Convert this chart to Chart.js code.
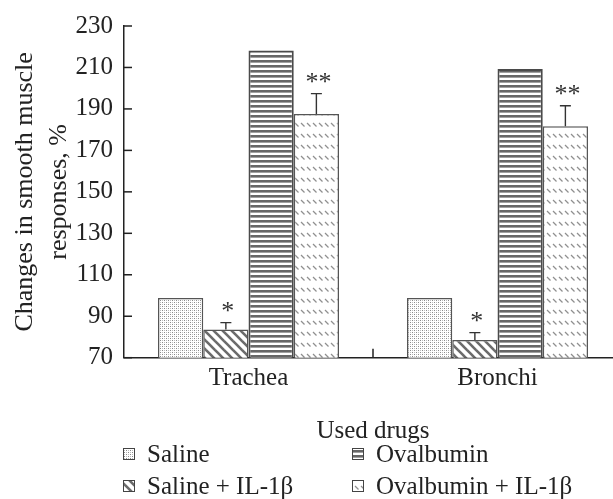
<!DOCTYPE html>
<html>
<head>
<meta charset="utf-8">
<script src="https://cdn.jsdelivr.net/npm/chart.js@4.4.1/dist/chart.umd.min.js"></script>
<style>
  html, body { margin: 0; padding: 0; background: #fff; overflow: hidden; }
  #wrap { width: 622px; height: 499px; }
</style>
</head>
<body>
<div id="wrap"><canvas id="chart"></canvas></div>
<script>
'use strict';

// Data

const categories = ['Trachea', 'Bronchi'];
const seriesNames = ['Saline', 'Saline + IL-1β', 'Ovalbumin', 'Ovalbumin + IL-1β'];
const salineValues = [98.8, 98.8];
const salineIlValues = [83.6, 78.5];
const ovalbuminValues = [218.2, 209.3];
const ovalbuminIlValues = [187.5, 181.7];
const salineIlErrors = [3.3, 3.6];
const ovalbuminIlErrors = [9.9, 9.8];
const salineIlMarks = ['*', '*'];
const ovalbuminIlMarks = ['**', '**'];
const yTicks = [70, 90, 110, 130, 150, 170, 190, 210, 230];

const serif = '"Liberation Serif", "DejaVu Serif", serif';
const ink = '#222';

// Hatch patterns for the bars

function makePattern(kind) {
    let c = document.createElement('canvas');
    let g = c.getContext('2d');
    if (kind === 'dots') {
        c.width = 4; c.height = 4;
        g.fillStyle = '#fff'; g.fillRect(0, 0, 4, 4);
        g.fillStyle = '#8a8a8a';
        g.fillRect(0, 0, 1, 1); g.fillRect(2, 2, 1, 1);
        g.fillStyle = '#bdbdbd';
        g.fillRect(2, 0, 1, 1); g.fillRect(0, 2, 1, 1);
    } else if (kind === 'diag') {
        c.width = 9; c.height = 9;
        g.fillStyle = '#fff'; g.fillRect(0, 0, 9, 9);
        g.strokeStyle = '#6b6b6b'; g.lineWidth = 2.6;
        for (let k = -9; k <= 9; k += 9) {
            g.beginPath(); g.moveTo(k - 1, -1); g.lineTo(k + 10, 10); g.stroke();
        }
    } else if (kind === 'horiz') {
        c.width = 4; c.height = 5;
        g.fillStyle = '#fff'; g.fillRect(0, 0, 4, 5);
        g.fillStyle = '#666'; g.fillRect(0, 0, 4, 2);
        g.fillStyle = '#a0a0a0'; g.fillRect(0, 2, 4, 1);
    } else {
        c.width = 6; c.height = 11;
        g.fillStyle = '#fff'; g.fillRect(0, 0, 6, 11);
        g.strokeStyle = '#8f8f8f'; g.lineWidth = 1.2;
        g.beginPath(); g.moveTo(1, 2); g.lineTo(4.5, 5.5); g.stroke();
    }
    return g.createPattern(c, 'repeat');
}

const fills = [makePattern('dots'), makePattern('diag'), makePattern('horiz'), makePattern('dash')];
const errors = [null, salineIlErrors, null, ovalbuminIlErrors];
const marks = [null, salineIlMarks, null, ovalbuminIlMarks];

// Legend layout: two columns, two rows
const legendOrder = [[0, 2], [1, 3]];
const legendColX = [123, 352];
const legendRowY = [454, 486];

const extras = {
    id: 'extras',
    afterDatasetsDraw(chart) {
        let ctx = chart.ctx;
        let xs = chart.scales.x;
        let ys = chart.scales.y;
        ctx.save();
        ctx.strokeStyle = ink;
        ctx.lineWidth = 1.5;

        // tick marks pointing into the plot
        ys.ticks.forEach(t => {
            let py = ys.getPixelForValue(t.value);
            ctx.beginPath(); ctx.moveTo(xs.left, py); ctx.lineTo(xs.left + 8, py); ctx.stroke();
        });
        let mid = (xs.getPixelForValue(0) + xs.getPixelForValue(1)) / 2;
        ctx.beginPath(); ctx.moveTo(mid, ys.bottom); ctx.lineTo(mid, ys.bottom - 9); ctx.stroke();

        // error bars and significance marks
        chart.data.datasets.forEach((ds, i) => {
            if (!errors[i]) return;
            let meta = chart.getDatasetMeta(i);
            meta.data.forEach((bar, j) => {
                let top = ys.getPixelForValue(ds.data[j] + errors[i][j]);
                ctx.strokeStyle = '#333';
                ctx.lineWidth = 1.4;
                ctx.beginPath();
                ctx.moveTo(bar.x, bar.y); ctx.lineTo(bar.x, top);
                ctx.moveTo(bar.x - 5.5, top); ctx.lineTo(bar.x + 5.5, top);
                ctx.stroke();
                ctx.fillStyle = '#333';
                ctx.font = '26px ' + serif;
                ctx.textAlign = 'center';
                ctx.textBaseline = 'alphabetic';
                ctx.fillText(marks[i][j], bar.x + 2, top - 4);
            });
        });
        ctx.restore();
    },
    afterDraw(chart) {
        let ctx = chart.ctx;
        ctx.save();
        ctx.font = '25px ' + serif;
        ctx.textBaseline = 'middle';
        ctx.textAlign = 'left';
        legendOrder.forEach((row, r) => {
            row.forEach((idx, c) => {
                let bx = legendColX[c];
                let by = legendRowY[r];
                ctx.fillStyle = fills[idx];
                ctx.fillRect(bx, by - 6, 12, 12);
                ctx.strokeStyle = '#444';
                ctx.lineWidth = 1;
                ctx.strokeRect(bx + 0.5, by - 5.5, 11, 11);
                ctx.fillStyle = ink;
                ctx.fillText(seriesNames[idx], bx + 24, by + 1);
            });
        });
        ctx.restore();
    }
};

const valueLists = [salineValues, salineIlValues, ovalbuminValues, ovalbuminIlValues];

new Chart(document.getElementById('chart'), {
    type: 'bar',
    data: {
        labels: categories,
        datasets: seriesNames.map((name, i) => ({
            label: name,
            data: valueLists[i],
            backgroundColor: fills[i],
            borderColor: i === 2 ? '#4a4a4a' : '#555',
            borderWidth: i === 2 ? 2 : 1.5
        }))
    },
    options: {
        responsive: true,
        maintainAspectRatio: false,
        animation: false,
        layout: { padding: { top: 23, right: 0, bottom: 0, left: 0 } },
        datasets: { bar: { categoryPercentage: 0.727, barPercentage: 1 } },
        plugins: { legend: { display: false }, tooltip: { enabled: false } },
        scales: {
            x: {
                grid: { display: false, drawTicks: false },
                border: { color: ink, width: 1.5 },
                ticks: { color: ink, font: { family: serif, size: 25 }, padding: 6 },
                title: {
                    display: true, text: 'Used drugs', color: ink,
                    font: { family: serif, size: 25, lineHeight: 1.2 },
                    padding: { top: 0, bottom: 53 }
                },
                afterFit: s => { s.height = 141.3; }
            },
            y: {
                min: 70,
                max: 230,
                afterBuildTicks: s => { s.ticks = yTicks.map(v => ({ value: v })); },
                grid: { display: false, drawTicks: false },
                border: { color: ink, width: 1.5 },
                ticks: { color: ink, font: { family: serif, size: 25 }, padding: 11 },
                title: {
                    display: true,
                    text: ['Changes in smooth muscle', 'responses, %'],
                    color: ink,
                    font: { family: serif, size: 26, lineHeight: 1.3 },
                    padding: { top: 8, bottom: 0 }
                },
                afterFit: s => { s.width = 124; }
            }
        }
    },
    plugins: [extras]
});
</script>
</body>
</html>
